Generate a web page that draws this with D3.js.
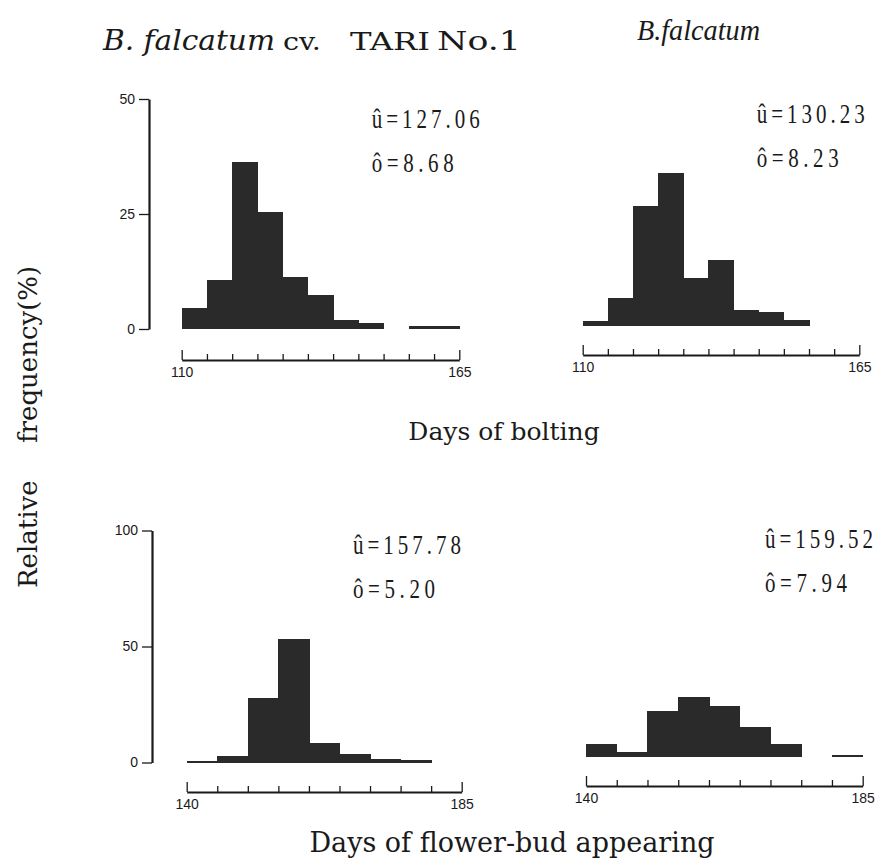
<!DOCTYPE html>
<html><head><meta charset="utf-8">
<script src="https://cdn.jsdelivr.net/npm/d3@7"></script>
<style>body{margin:0;background:#fff}svg{display:block}</style>
</head><body>
<svg id="c" width="887" height="861"></svg>
<script>
// ---- data ----
const boltBins = [110,115,120,125,130,135,140,145,150,155,160];
const boltTARI = [4.5,10.7,36.2,25.5,11.2,7.5,2.0,1.2,0,0.7,0.7];
const boltWild = [1.0,6.0,26.1,33.3,10.4,14.3,3.5,3.1,1.2,0,0];
const budBins = [140,145,150,155,160,165,170,175,180];
const budTARI = [0.7,2.6,28.0,53.4,8.6,3.6,1.5,1.0,0];
const budWild = [5.7,2.4,20.1,25.9,22.2,12.9,5.7,0,1.0];
const binWidth = 5;
const boltTicks = [110,115,120,125,130,135,140,145,150,155,160,165];
const budTicks = [140,145,150,155,160,165,170,175,180,185];
const boltYTicks = [0,25,50];
const budYTicks = [0,50,100];
const stats = [
  {mu:"127.06", sd:"8.68"},
  {mu:"130.23", sd:"8.23"},
  {mu:"157.78", sd:"5.20"},
  {mu:"159.52", sd:"7.94"}
];
const titleParts = ["B. falcatum", "cv.", "TARI", "No.1"];
const title2 = "B.falcatum";
const xLabels = ["Days of bolting", "Days of flower-bud appearing"];
const yLabel = ["Relative", "frequency(%)"];

// ---- layout ----
const svg = d3.select("#c");
const panels = [
  {bins:boltBins, vals:boltTARI, ticks:boltTicks, xr:[181.7,459.3], y0:329, yTop:99, yMax:50, yTicks:boltYTicks, axisY:360, yAxisX:149, showY:true, st:stats[0], sx:371.7, sy:128},
  {bins:boltBins, vals:boltWild, ticks:boltTicks, xr:[582.7,859.3], y0:326, yTop:96, yMax:50, yTicks:null, axisY:355, st:stats[1], sx:756.7, sy:122.7},
  {bins:budBins, vals:budTARI, ticks:budTicks, xr:[186.7,461.7], y0:762.5, yTop:530.5, yMax:100, yTicks:budYTicks, axisY:792, yAxisX:152, showY:true, st:stats[2], sx:353, sy:554},
  {bins:budBins, vals:budWild, ticks:budTicks, xr:[586,862.7], y0:757.3, yTop:525.3, yMax:100, yTicks:null, axisY:786, st:stats[3], sx:765, sy:548.3}
];
const ink = "#1a1a1a";
const barFill = "#2a2a2a";
const serif = "'DejaVu Serif', 'Liberation Serif', serif";
const times = "'Liberation Serif', 'Times New Roman', serif";

panels.forEach(p => {
  const tmin = p.ticks[0], tmax = p.ticks[p.ticks.length-1];
  const x = d3.scaleLinear().domain([tmin, tmax]).range(p.xr);
  const y = d3.scaleLinear().domain([0, p.yMax]).range([p.y0, p.yTop]);
  const g = svg.append("g");
  // bars
  g.append("g").attr("shape-rendering","crispEdges")
    .selectAll("rect").data(p.bins.map((b,i)=>({b, v:p.vals[i]})).filter(d=>d.v>0))
    .enter().append("rect")
    .attr("x", d=>x(d.b)).attr("width", d=>x(d.b+binWidth)-x(d.b)+0.6)
    .attr("y", d=>y(d.v)).attr("height", d=>y(0)-y(d.v))
    .attr("fill", barFill);
  // x axis (ticks up, labels only at ends)
  const xa = g.append("g").attr("transform",`translate(0,${p.axisY})`)
    .call(d3.axisBottom(x).tickValues(p.ticks).tickSize(-6).tickSizeOuter(0).tickPadding(7)
      .tickFormat(d => (d===tmin||d===tmax) ? d : ""));
  xa.select(".domain").attr("stroke", ink).attr("stroke-width", 2.2);
  xa.selectAll(".tick line").attr("stroke", ink).attr("stroke-width", 1.3)
    .attr("y2", d => (d===tmin||d===tmax) ? -10 : -6);
  xa.selectAll(".tick text").attr("fill", ink)
    .style("font-family","'Liberation Sans', Arial, sans-serif").style("font-size","14px");
  // y axis
  if (p.showY) {
    const ya = g.append("g").attr("transform",`translate(${p.yAxisX},0)`)
      .call(d3.axisLeft(y).tickValues(p.yTicks).tickSize(10).tickSizeOuter(0).tickPadding(4));
    ya.select(".domain").attr("stroke", ink).attr("stroke-width", 2.2);
    ya.selectAll(".tick line").attr("stroke", ink).attr("stroke-width", 1.3);
    ya.selectAll(".tick text").attr("fill", ink)
      .style("font-family","'Liberation Sans', Arial, sans-serif").style("font-size","14px");
  }
  // stats
  const st = svg.append("g").attr("fill", ink)
    .style("font-family", times).style("font-size","21px");
  st.append("text").attr("transform",`translate(${p.sx},${p.sy}) scale(1,1.35)`)
    .attr("textLength",108).attr("lengthAdjust","spacing").text("û=" + p.st.mu);
  st.append("text").attr("transform",`translate(${p.sx},${p.sy+44}) scale(1,1.35)`)
    .attr("textLength",82).attr("lengthAdjust","spacing").text("ô=" + p.st.sd);
});

// titles
const tg = svg.append("g").attr("fill", ink);
tg.append("text").attr("x",103).attr("y",50).attr("textLength",172).attr("lengthAdjust","spacingAndGlyphs")
  .style("font-family",serif).style("font-style","italic").style("font-size","28px").text(titleParts[0]);
tg.append("text").attr("x",283).attr("y",50).attr("textLength",38).attr("lengthAdjust","spacingAndGlyphs")
  .style("font-family",serif).style("font-size","25px").text(titleParts[1]);
tg.append("text").attr("x",350).attr("y",50).attr("textLength",80).attr("lengthAdjust","spacingAndGlyphs")
  .style("font-family",serif).style("font-size","25px").text(titleParts[2]);
tg.append("text").attr("x",437).attr("y",50).attr("textLength",84).attr("lengthAdjust","spacingAndGlyphs")
  .style("font-family",serif).style("font-size","26px").text(titleParts[3]);
tg.append("text").attr("x",637).attr("y",40).attr("textLength",123).attr("lengthAdjust","spacingAndGlyphs")
  .style("font-family",times).style("font-style","italic").style("font-size","29px").text(title2);

svg.append("text").attr("x",504).attr("y",440).attr("text-anchor","middle").attr("fill",ink)
  .style("font-family",serif).style("font-size","25px").text(xLabels[0]);
svg.append("text").attr("x",512).attr("y",852).attr("text-anchor","middle").attr("fill",ink)
  .style("font-family",serif).style("font-size","27px").text(xLabels[1]);

svg.append("text").attr("transform","translate(37,588) rotate(-90)").attr("fill",ink)
  .style("font-family",serif).style("font-size","26px").text(yLabel[0]);
svg.append("text").attr("transform","translate(37,443) rotate(-90)").attr("fill",ink)
  .style("font-family",serif).style("font-size","26px").text(yLabel[1]);
</script>
</body></html>
